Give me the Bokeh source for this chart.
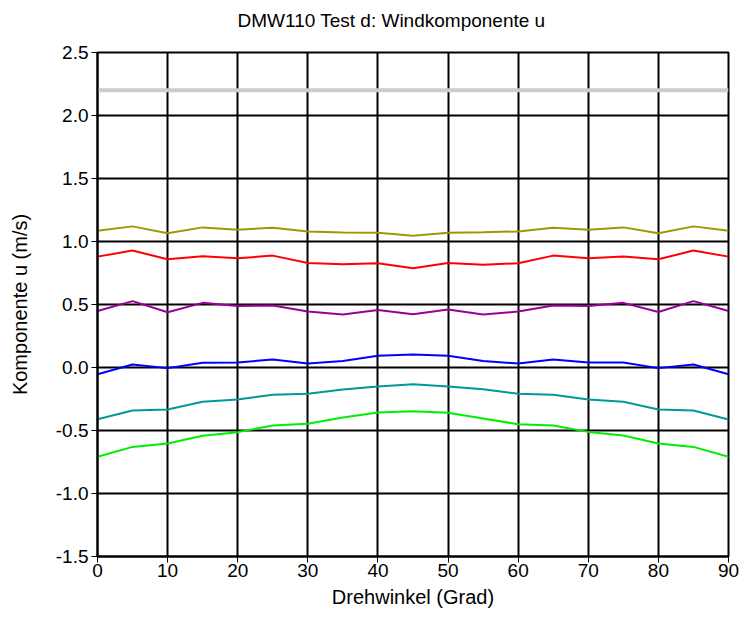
from bokeh.plotting import figure
from bokeh.models import Span, FixedTicker, PrintfTickFormatter, Range1d, Title
from bokeh.embed import file_html
from bokeh.resources import INLINE

angles = [0, 5, 10, 15, 20, 25, 30, 35, 40, 45, 50, 55, 60, 65, 70, 75, 80, 85, 90]

olive_u = [1.085, 1.12, 1.066, 1.112, 1.093, 1.109, 1.08, 1.072, 1.069, 1.045,
           1.069, 1.074, 1.08, 1.109, 1.093, 1.112, 1.066, 1.12, 1.085]
red_u = [0.880, 0.928, 0.859, 0.883, 0.867, 0.888, 0.830, 0.819, 0.827, 0.787,
         0.830, 0.816, 0.827, 0.888, 0.867, 0.880, 0.859, 0.928, 0.880]
purple_u = [0.449, 0.527, 0.439, 0.513, 0.489, 0.492, 0.444, 0.420, 0.457, 0.423,
            0.460, 0.420, 0.444, 0.492, 0.489, 0.513, 0.441, 0.527, 0.449]
blue_u = [-0.053, 0.024, -0.005, 0.037, 0.040, 0.064, 0.032, 0.051, 0.093, 0.104,
          0.093, 0.051, 0.032, 0.064, 0.040, 0.040, -0.005, 0.024, -0.053]
teal_u = [-0.410, -0.341, -0.333, -0.272, -0.254, -0.217, -0.209, -0.175, -0.151, -0.132,
          -0.151, -0.172, -0.209, -0.217, -0.254, -0.272, -0.333, -0.341, -0.413]
green_u = [-0.709, -0.630, -0.603, -0.542, -0.513, -0.460, -0.447, -0.397, -0.357, -0.347,
           -0.360, -0.405, -0.450, -0.460, -0.511, -0.540, -0.603, -0.630, -0.709]

reference_u = 2.2

series = [
    (olive_u, "#999900"),
    (red_u, "#ff0000"),
    (purple_u, "#990099"),
    (blue_u, "#0000ff"),
    (teal_u, "#009999"),
    (green_u, "#00ee00"),
]

x_ticks = [0, 10, 20, 30, 40, 50, 60, 70, 80, 90]
y_ticks = [-1.5, -1.0, -0.5, 0.0, 0.5, 1.0, 1.5, 2.0, 2.5]

title_text = "DMW110 Test d: Windkomponente u"

FONT = "Liberation Sans"

p = figure(width=740, height=617, output_backend="svg", toolbar_location=None,
           x_range=Range1d(0, 90), y_range=Range1d(-1.5, 2.5),
           min_border_left=97, min_border_right=12, min_border_top=52,
           min_border_bottom=61)

# spacer between frame and title (closest to the frame)
spacer = Title(text=" ", text_font=FONT, text_font_size="10px", standoff=8)
p.add_layout(spacer, "above")
main_title = Title(text=title_text, align="left", offset=140, standoff=2,
                   text_font=FONT, text_font_size="19px", text_font_style="normal",
                   text_color="black")
p.add_layout(main_title, "above")

p.outline_line_color = "black"
p.outline_line_width = 2

ref = Span(location=reference_u, dimension="width", line_color="#cccccc",
           line_width=4, level="underlay")
p.add_layout(ref)

for vals, col in series:
    p.line(angles, vals, line_color=col, line_width=2)

for g in (p.xgrid, p.ygrid):
    g.grid_line_color = "black"
    g.grid_line_width = 2
    g.grid_line_alpha = 1.0

p.xaxis.ticker = FixedTicker(ticks=x_ticks)
p.yaxis.ticker = FixedTicker(ticks=y_ticks)
p.yaxis.formatter = PrintfTickFormatter(format="%.1f")

for ax in (p.xaxis, p.yaxis):
    ax.axis_line_color = "black"
    ax.axis_line_width = 2
    ax.major_tick_line_color = "black"
    ax.major_tick_line_width = 1
    ax.major_tick_out = 6
    ax.major_tick_in = 0
    ax.minor_tick_line_color = None
    ax.major_label_text_font = FONT
    ax.major_label_text_font_size = "19px"
    ax.major_label_text_color = "black"
    ax.axis_label_text_font = FONT
    ax.axis_label_text_font_size = "20px"
    ax.axis_label_text_font_style = "normal"
    ax.axis_label_text_color = "black"

p.xaxis.axis_label = "Drehwinkel (Grad)"
p.yaxis.axis_label = "Komponente u (m/s)"
p.xaxis.major_label_standoff = 1
p.yaxis.major_label_standoff = 3
p.xaxis.axis_label_standoff = 6
p.yaxis.axis_label_standoff = 22

open("out.html", "w").write(file_html(p, INLINE))
